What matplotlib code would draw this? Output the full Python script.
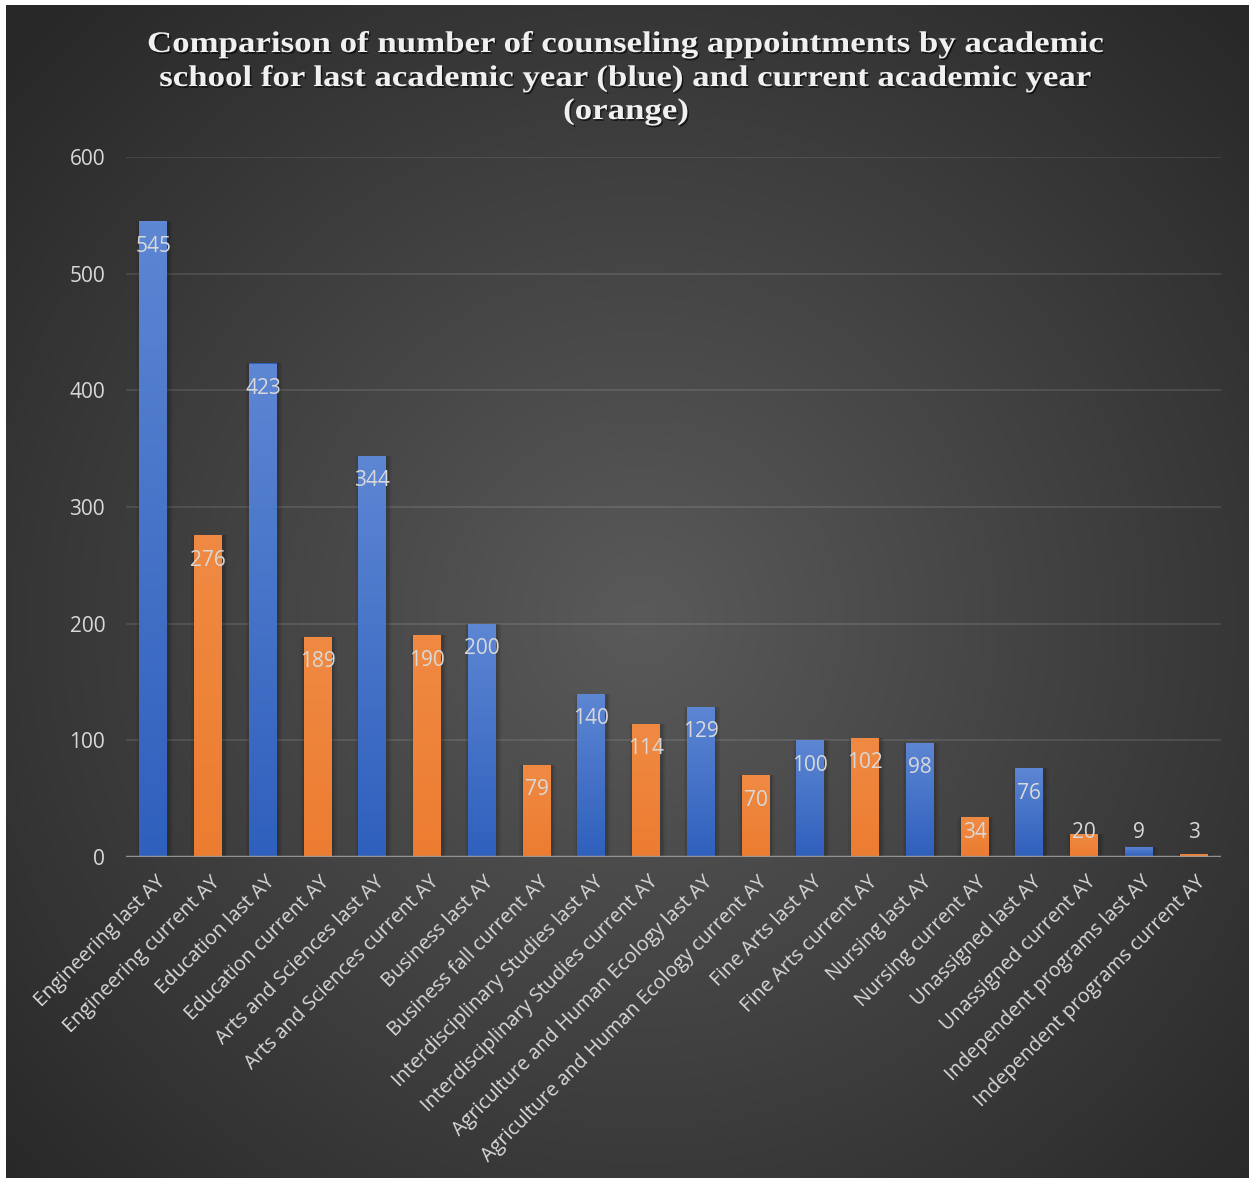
import numpy as np
import matplotlib
matplotlib.use("Agg")
import matplotlib.pyplot as plt
import matplotlib.patheffects as pe
from matplotlib.transforms import Affine2D, ScaledTranslation
from matplotlib.font_manager import FontProperties

categories = [
    "Engineering last AY", "Engineering current AY",
    "Education last AY", "Education current AY",
    "Arts and Sciences last AY", "Arts and Sciences current AY",
    "Business last AY", "Business fall current AY",
    "Interdisciplinary Studies last AY", "Interdisciplinary Studies current AY",
    "Agriculture and Human Ecology last AY", "Agriculture and Human Ecology current AY",
    "Fine Arts last AY", "Fine Arts current AY",
    "Nursing last AY", "Nursing current AY",
    "Unassigned last AY", "Unassigned current AY",
    "Independent programs last AY", "Independent programs current AY",
]
appointments = [545, 276, 423, 189, 344, 190, 200, 79, 140, 114,
                129, 70, 100, 102, 98, 34, 76, 20, 9, 3]
yticks = [0, 100, 200, 300, 400, 500, 600]
title_lines = [
    "Comparison of number of counseling appointments by academic",
    "school for last academic year (blue) and current academic year",
    "(orange)",
]

W, H = 1249, 1178
fig = plt.figure(figsize=(W / 100, H / 100), dpi=100, facecolor="white")

# radial gradient background (white margin left and top)
bg = fig.add_axes([6 / W, 0, 1 - 6 / W, 1 - 5 / H], zorder=-10)
bg.set_axis_off()
yy, xx = np.mgrid[0:H - 5, 0:W - 6]
d = np.sqrt((xx + 6 - 640) ** 2 + (yy + 5 - 620) ** 2) / 850.0
v = (90 - 50 * np.clip(d, 0, 1)) / 255.0
bg.imshow(np.dstack([v, v, v]), aspect="auto", interpolation="bilinear")

ax = fig.add_axes([126 / W, 1 - 857 / H, (1221 - 126) / W, (857 - 157) / H])
ax.set_facecolor("none")
for s in ax.spines.values():
    s.set_visible(False)

x = np.arange(len(categories))
colors_top = ["#5d86d3" if i % 2 == 0 else "#f08a43" for i in x]
colors_bot = ["#2f60bd" if i % 2 == 0 else "#ec7c30" for i in x]
width = 0.51

# soft shadow behind bars
for k, a in [(0.16, 0.05), (0.1, 0.07), (0.05, 0.09)]:
    ax.bar(x + 0.02, appointments, width=width + k, color="black", alpha=a, zorder=1, linewidth=0)

bars = ax.bar(x, appointments, width=width, color=colors_bot, zorder=2, linewidth=0)
for i, b in enumerate(bars):
    c1 = np.array(matplotlib.colors.to_rgb(colors_top[i]))
    c2 = np.array(matplotlib.colors.to_rgb(colors_bot[i]))
    t = np.linspace(0, 1, 64)[:, None]
    grad = (c1 * (1 - t) + c2 * t)[:, None, :]
    im = ax.imshow(grad, extent=[b.get_x(), b.get_x() + b.get_width(), 0, b.get_height()],
                   aspect="auto", zorder=3, interpolation="bilinear")
    im.set_clip_path(b)

ax.set_xlim(-0.5, len(categories) - 0.5)
ax.set_ylim(0, 600)
ax.set_yticks(yticks)
ax.yaxis.grid(True, color="white", alpha=0.1, linewidth=1.5, zorder=0)
ax.set_axisbelow(True)
ax.axhline(0, color="#9a9a9a", linewidth=2.5, alpha=0.9, zorder=4)

lab_font = "Open Sans"
ax.tick_params(axis="both", length=0, colors="#d9d9d9")
ax.tick_params(axis="y", pad=15, labelsize=15)
for t in ax.get_yticklabels():
    t.set_fontfamily(lab_font)
ax.set_xticks(x)
ax.set_xticklabels(categories, rotation=45, ha="right", va="center",
                   rotation_mode="anchor", fontsize=14.3, family=lab_font, color="#d9d9d9")
ax.tick_params(axis="x", pad=16)
shift = ScaledTranslation(9 / 100, 0, fig.dpi_scale_trans)
for t in ax.get_xticklabels():
    t.set_transform(t.get_transform() + shift)

# data labels at the inside end of each bar
px = 600 / (857 - 157)
for i, val in enumerate(appointments):
    ly = max(val - 25 * px, 24 * px)
    ax.text(i, ly, str(val), ha="center", va="center", color="#d9d9d9",
            fontsize=15, family=lab_font, zorder=5)


class SpacedShadow(pe.AbstractPathEffect):
    def __init__(self, sx, cx):
        super().__init__()
        self.sx = sx
        self.cx = cx

    def draw_path(self, renderer, gc, tpath, affine, rgbFace=None):
        st = affine + Affine2D().translate(-self.cx, 0).scale(self.sx, 1).translate(self.cx, 0)
        gc0 = renderer.new_gc()
        gc0.copy_properties(gc)
        gc0.set_alpha(0.6)
        gc0.set_linewidth(0)
        renderer.draw_path(gc0, tpath, st + Affine2D().translate(1.5, -1.8), (0, 0, 0))
        gc0.restore()
        renderer.draw_path(gc, tpath, st, rgbFace)


tfp = FontProperties(family="Liberation Serif", weight="bold", size=21.5)
rend = fig.canvas.get_renderer()
w0, _, _ = rend.get_text_width_height_descent(title_lines[0], tfp, ismath=False)
sx = 958 / w0
cx = 626
for line, base in zip(title_lines, [52, 86, 119]):
    fig.text(cx / W, 1 - base / H, line, ha="center", va="baseline",
             fontproperties=tfp, color="#f0f0f0",
             path_effects=[SpacedShadow(sx, cx)])

fig.savefig("out.png", dpi=100)
